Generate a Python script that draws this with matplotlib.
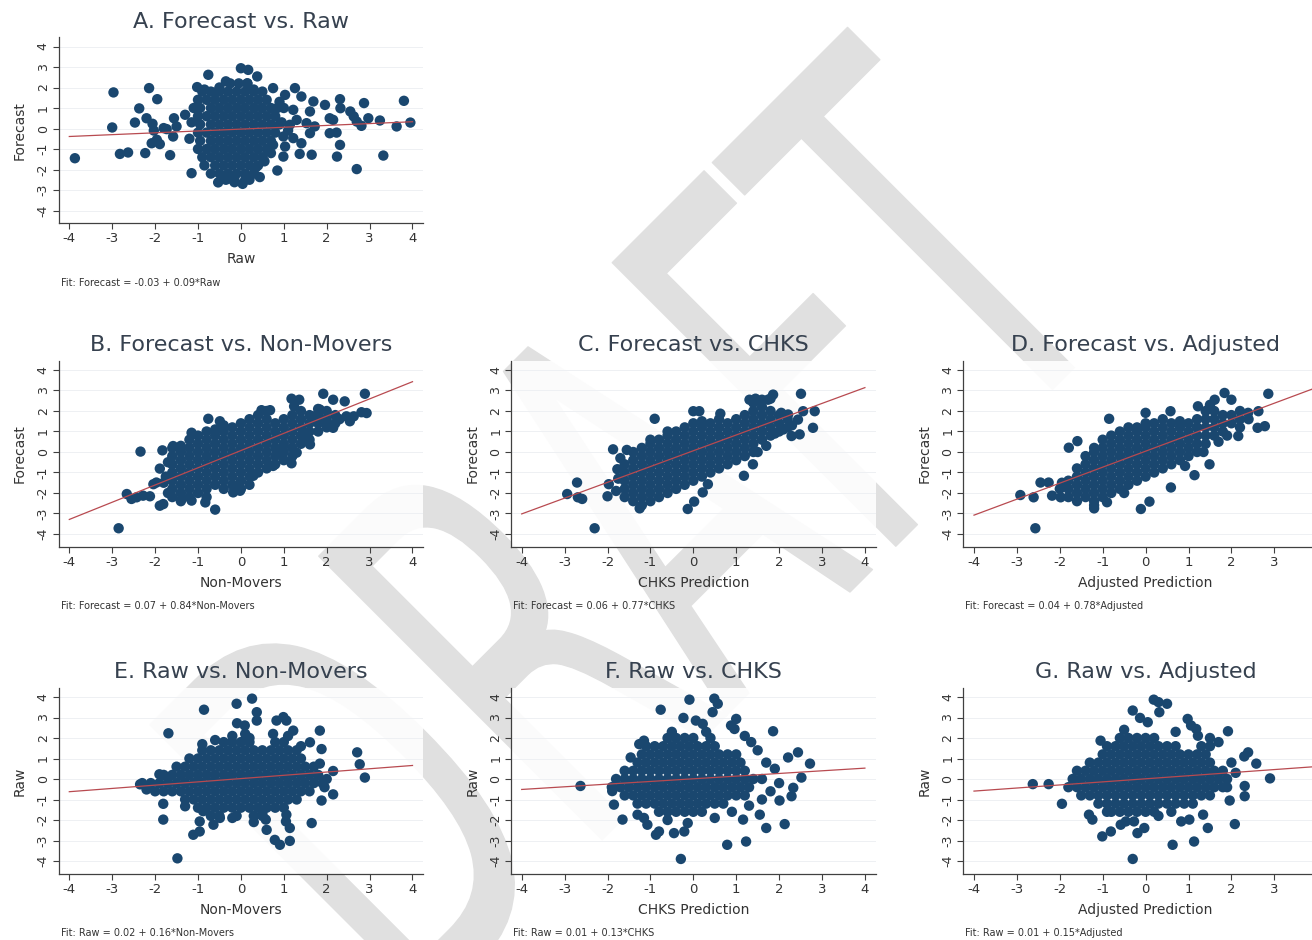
import numpy as np
import matplotlib
matplotlib.use("Agg")
import matplotlib.pyplot as plt
from matplotlib.textpath import TextPath
from matplotlib.patches import PathPatch
from matplotlib.font_manager import FontProperties
from matplotlib.transforms import Affine2D

plt.rcParams['font.family'] = 'DejaVu Sans'
plt.rcParams['axes.unicode_minus'] = False

W, H = 1312, 940

# ---------------- data ----------------
# dense cores: rows (y, [x...]) or columns (x, [y...]); extras: scattered (x, y)
a_core = [
    (2.2, [-0.25, -0.05, 0.15]),
    (1.8, [-0.9, -0.7, -0.5, -0.3, -0.1, 0.1, 0.3, 0.5]),
    (1.4, [-1.0, -0.8, -0.6, -0.4, -0.2, 0.0, 0.2, 0.4, 0.6]),
    (1.0, [-0.95, -0.7, -0.5, -0.3, -0.1, 0.1, 0.3, 0.5, 0.7, 0.85]),
    (0.6, [-1.0, -0.8, -0.6, -0.4, -0.2, 0.0, 0.2, 0.4, 0.6, 0.8]),
    (0.2, [-0.95, -0.7, -0.5, -0.3, -0.1, 0.1, 0.3, 0.5, 0.7, 0.9]),
    (-0.2, [-1.0, -0.8, -0.6, -0.4, -0.2, 0.0, 0.2, 0.4, 0.6, 0.8]),
    (-0.6, [-0.95, -0.7, -0.5, -0.3, -0.1, 0.1, 0.3, 0.5, 0.7]),
    (-1.0, [-1.0, -0.8, -0.6, -0.4, -0.2, 0.0, 0.2, 0.4, 0.6]),
    (-1.4, [-0.9, -0.7, -0.5, -0.3, -0.1, 0.1, 0.3, 0.5]),
    (-1.8, [-0.85, -0.6, -0.4, -0.2, 0.0, 0.2, 0.4]),
    (-2.2, [-0.7, -0.5, -0.3, -0.1, 0.1, 0.3]),
    (-2.5, [-0.35, -0.15, 0.1]),
]
a_extra = [(-3.87, -1.45), (-2.97, 1.76), (-3.0, 0.05), (-2.82, -1.24), (-2.63, -1.17),
           (-2.14, 1.97), (-1.95, 1.43), (-2.37, 0.98), (-2.47, 0.29), (-2.2, 0.5),
           (-2.06, 0.23), (-2.03, -0.1), (-2.23, -1.2), (-2.08, -0.72), (-1.96, -0.55),
           (-1.89, -0.76), (-1.65, -1.3), (-1.8, 0.02), (-1.73, -0.03), (-1.56, 0.5),
           (-1.5, 0.1), (-1.58, -0.39), (-1.3, 0.67), (-1.15, -2.18), (-1.02, 2.02),
           (-0.76, 2.62), (0.0, 2.94), (0.17, 2.86), (0.38, 2.54), (-0.53, -2.63),
           (0.04, -2.7), (0.44, -2.37), (0.85, -2.05), (0.75, 1.97), (1.03, 1.64),
           (1.26, 1.97), (1.41, 1.56), (1.22, 0.91), (1.61, 0.83), (1.69, 1.32),
           (1.96, 1.15), (2.07, 0.5), (2.15, 0.42), (2.31, 1.43), (2.32, 0.99),
           (2.55, 0.83), (2.63, 0.59), (2.7, 0.34), (2.87, 1.24), (2.97, 0.5),
           (3.24, 0.39), (3.8, 1.35), (3.95, 0.29), (3.63, 0.1), (3.32, -1.32),
           (2.7, -1.98), (2.24, -1.37), (2.31, -0.8), (2.23, -0.2), (2.07, -0.23),
           (2.81, 0.13), (1.65, -1.28), (1.37, -1.24), (1.41, -0.72), (1.22, -0.47),
           (0.99, -1.37), (1.03, -0.88), (0.99, -0.39), (0.75, -0.8), (1.61, -0.23),
           (1.72, 0.1), (1.53, 0.26), (1.14, 0.18), (1.3, 0.42), (0.9, 1.3), (1.0, 1.0),
           (0.95, 0.3), (1.1, -0.1), (-1.1, 1.0), (-1.15, 0.3), (-1.2, -0.5),
           (-0.3, -2.45), (0.2, -2.5), (-0.15, -2.62), (0.35, -1.9), (0.55, -1.6),
           (0.7, -1.2), (-0.5, 2.0), (-0.35, 2.3), (0.15, 2.2), (0.3, 1.9), (-0.6, 1.75),
           (-0.85, 1.9)]

b_core = [
    (-1.6, [-2.2, -1.8, -1.4, -1.0, -0.6, -0.2, 0.2]),
    (-1.4, [-2.4, -2.0, -1.6, -1.2, -0.8, -0.4, 0.0, 0.3]),
    (-1.2, [-2.2, -1.8, -1.4, -1.0, -0.6, -0.2, 0.2, 0.6]),
    (-1.0, [-2.0, -1.6, -1.2, -0.8, -0.4, 0.0, 0.4, 0.8]),
    (-0.8, [-2.2, -1.8, -1.4, -1.0, -0.6, -0.2, 0.2, 0.6, 1.0]),
    (-0.6, [-1.6, -1.2, -0.8, -0.4, 0.0, 0.4, 0.8, 1.1]),
    (-0.4, [-1.8, -1.4, -1.0, -0.6, -0.2, 0.2, 0.6, 1.0, 1.3]),
    (-0.2, [-1.6, -1.2, -0.8, -0.4, 0.0, 0.4, 0.8, 1.2]),
    (0.0, [-1.8, -1.4, -1.0, -0.6, -0.2, 0.2, 0.6, 1.0, 1.4]),
    (0.2, [-1.6, -1.2, -0.8, -0.4, 0.0, 0.4, 0.8, 1.2, 1.6]),
    (0.4, [-1.0, -0.6, -0.2, 0.2, 0.6, 1.0, 1.4, 1.8]),
    (0.6, [-0.8, -0.4, 0.0, 0.4, 0.8, 1.2, 1.6, 2.0]),
    (0.8, [-0.6, -0.2, 0.2, 0.6, 1.0, 1.4]),
    (1.0, [-0.4, 0.0, 0.4, 0.8, 1.2, 1.6]),
    (1.2, [-0.2, 0.2, 0.6, 1.0, 1.4, 1.8]),
    (1.4, [0.4, 0.8, 1.2, 1.6, 2.0]),
    (1.6, [0.6, 1.0, 1.4, 1.8]),
    (1.8, [1.0, 1.4, 1.8, 2.1]),
    (2.0, [1.2, 1.6, 2.0]),
    (2.2, [1.4, 1.8]),
]
b_extra = [(-2.85, -3.72), (-2.66, -2.05), (-2.55, -2.29), (-2.43, -2.21), (-2.28, -2.13),
           (-2.12, -2.16), (-2.34, 0.02), (-1.83, 0.08), (-1.89, -0.81), (-1.89, -2.62),
           (-1.81, -2.54), (-2.04, -1.57), (-1.97, -1.49), (-0.83, -2.46), (-0.6, -2.81),
           (-1.15, -2.37), (-1.38, -2.29), (-0.76, 1.62), (-1.15, 0.94), (-1.58, 0.29),
           (-0.49, 1.5), (0.48, 2.04), (0.68, 2.04), (1.18, 2.6), (1.36, 2.55), (1.24, 2.23),
           (1.92, 2.84), (2.15, 2.55), (2.42, 2.47), (2.89, 2.84), (2.93, 1.9), (2.81, 1.94),
           (2.63, 1.74), (2.54, 1.5), (2.46, 1.74), (2.15, 1.18), (1.92, 1.55), (1.68, 1.74),
           (1.84, 2.07), (1.61, 0.37), (1.3, -0.03), (1.18, -0.55), (0.91, -0.03),
           (0.99, 0.29), (-0.18, -1.97), (-0.09, -1.73), (-0.02, -1.89), (0.29, -1.16),
           (0.75, -0.68), (2.3, 1.6), (2.0, 1.3), (1.5, 0.6), (1.45, 1.0), (-1.8, -1.5),
           (-1.7, -2.0), (-1.75, -1.2), (-1.7, -0.5)]

c_core = [
    (-1.6, [-2.2, -1.8, -1.4, -1.0, -0.6]),
    (-1.4, [-2.4, -2.0, -1.6, -1.2, -0.8, -0.4, 0.0]),
    (-1.2, [-2.6, -2.2, -1.8, -1.4, -1.0, -0.6, -0.2, 0.2]),
    (-1.0, [-2.4, -2.0, -1.6, -1.2, -0.8, -0.4, 0.0, 0.4, 0.6]),
    (-0.8, [-2.2, -1.8, -1.4, -1.0, -0.6, -0.2, 0.2, 0.6]),
    (-0.6, [-2.0, -1.6, -1.2, -0.8, -0.4, 0.0, 0.4, 0.8, 1.0]),
    (-0.4, [-1.8, -1.4, -1.0, -0.6, -0.2, 0.2, 0.6, 1.0]),
    (-0.2, [-1.6, -1.2, -0.8, -0.4, 0.0, 0.4, 0.8, 1.2]),
    (0.0, [-1.4, -1.0, -0.6, -0.2, 0.2, 0.6, 1.0, 1.4]),
    (0.2, [-1.2, -0.8, -0.4, 0.0, 0.4, 0.8, 1.2, 1.5]),
    (0.4, [-1.0, -0.6, -0.2, 0.2, 0.6, 1.0, 1.4]),
    (0.6, [-0.8, -0.4, 0.0, 0.4, 0.8, 1.2, 1.6]),
    (0.8, [-0.6, -0.2, 0.2, 0.6, 1.0, 1.4]),
    (1.0, [-0.4, 0.0, 0.4, 0.8, 1.2, 1.6]),
    (1.2, [-0.2, 0.2, 0.6, 1.0, 1.4, 1.8]),
    (1.4, [0.0, 0.4, 0.8, 1.2, 1.6, 2.0, 2.4]),
    (1.6, [0.6, 1.0, 1.4, 1.8, 2.2, 2.5]),
    (1.8, [0.8, 1.2, 1.6, 2.0, 2.6]),
    (2.0, [1.0, 1.4, 1.8]),
    (2.2, [1.2, 1.6]),
]
c_extra = [(-2.3, -3.72), (-2.94, -2.05), (-2.71, -1.49), (-2.69, -2.21), (-2.59, -2.29),
           (-2.0, -2.16), (-1.97, -1.57), (-1.87, 0.13), (-1.77, -0.84), (-0.9, 1.62),
           (-0.13, -2.78), (0.02, -2.42), (0.22, -1.97), (0.34, -1.57), (0.0, 1.99),
           (0.14, 1.99), (0.63, 1.87), (1.18, -1.16), (1.39, -0.6), (2.51, 2.84),
           (1.86, 2.8), (1.31, 2.55), (1.45, 2.6), (1.6, 2.55), (1.74, 2.55), (2.79, 1.18),
           (2.83, 1.99), (2.29, 0.78), (2.48, 0.86), (2.56, 1.99), (2.44, 1.58),
           (2.05, 1.91), (2.21, 1.83), (2.3, 1.3), (2.1, 1.1), (1.9, 0.9), (1.7, 0.3),
           (1.5, 0.0), (-1.8, -1.9), (-1.75, -1.3), (-1.7, -0.3), (-1.55, 0.1),
           (-1.25, -2.75)]

d_core = [
    (-1.8, [-2.2, -1.8, -1.4]),
    (-1.6, [-2.4, -2.0, -1.6, -1.2, -0.8]),
    (-1.4, [-2.2, -1.8, -1.4, -1.0, -0.6, -0.2]),
    (-1.2, [-2.6, -2.4, -2.0, -1.6, -1.2, -0.8, -0.4, 0.0, 0.2]),
    (-1.0, [-2.2, -1.8, -1.4, -1.0, -0.6, -0.2, 0.2, 0.6]),
    (-0.8, [-2.0, -1.6, -1.2, -0.8, -0.4, 0.0, 0.4, 0.8]),
    (-0.6, [-1.8, -1.4, -1.0, -0.6, -0.2, 0.2, 0.6, 1.0]),
    (-0.4, [-1.6, -1.2, -0.8, -0.4, 0.0, 0.4, 0.8, 1.2]),
    (-0.2, [-1.4, -1.0, -0.6, -0.2, 0.2, 0.6, 1.0, 1.2]),
    (0.0, [-1.2, -0.8, -0.4, 0.0, 0.4, 0.8, 1.2, 1.4]),
    (0.2, [-1.0, -0.6, -0.2, 0.2, 0.6, 1.0, 1.4]),
    (0.4, [-0.8, -0.4, 0.0, 0.4, 0.8, 1.2, 1.6]),
    (0.6, [-0.6, -0.2, 0.2, 0.6, 1.0, 1.4]),
    (0.8, [-0.4, 0.0, 0.4, 0.8, 1.2, 1.5]),
    (1.0, [-0.2, 0.2, 0.6, 1.0, 1.4]),
    (1.2, [0.0, 0.4, 0.8, 1.2, 1.6]),
    (1.4, [0.4, 0.8, 1.2, 1.6, 2.0]),
    (1.6, [0.8, 1.2, 1.6, 2.0]),
    (1.8, [1.0, 1.4, 1.8]),
    (2.0, [1.4, 1.8]),
    (2.2, [1.6, 2.0]),
]
d_extra = [(-2.57, -3.72), (-2.92, -2.1), (-2.61, -2.21), (-2.45, -1.49), (-2.26, -1.49),
           (-2.18, -2.13), (-1.98, -2.21), (-1.79, 0.21), (-1.59, 0.53), (-0.85, 1.62),
           (0.0, 1.91), (0.58, 1.99), (-0.11, -2.78), (0.09, -2.42), (0.59, -1.73),
           (0.92, -0.68), (1.14, -1.13), (1.49, -0.6), (1.61, 2.55), (1.84, 2.88),
           (2.0, 2.55), (1.22, 2.23), (2.86, 2.84), (2.61, 1.18), (2.78, 1.26),
           (2.39, 1.91), (2.63, 1.99), (2.16, 0.78), (2.4, 1.6), (2.2, 1.2), (1.9, 0.8),
           (1.7, 0.5), (1.35, 0.0), (-2.0, -1.8), (-1.95, -1.5), (-1.2, -2.75),
           (-0.9, -2.45), (-0.5, -2.0), (1.5, 2.3)]

e_core = [
    (1.8, [-0.4, -0.2, 0.0, 0.2, 0.8, 1.0]),
    (1.4, [-0.9, -0.7, -0.5, -0.3, -0.1, 0.1, 0.3, 0.5, 0.7, 0.9, 1.1, 1.3]),
    (1.0, [-1.2, -1.0, -0.8, -0.6, -0.4, -0.2, 0.0, 0.2, 0.4, 0.6, 0.8, 1.0, 1.2, 1.4]),
    (0.6, [-1.5, -1.3, -1.1, -0.9, -0.7, -0.5, -0.3, -0.1, 0.1, 0.3, 0.5, 0.7, 0.9,
           1.1, 1.3, 1.5, 1.7]),
    (0.2, [-1.8, -1.6, -1.4, -1.2, -1.0, -0.8, -0.6, -0.4, -0.2, 0.0, 0.2, 0.4, 0.6,
           0.8, 1.0, 1.2, 1.4, 1.6, 1.8]),
    (-0.2, [-2.3, -2.1, -1.9, -1.7, -1.5, -1.3, -1.1, -0.9, -0.7, -0.5, -0.3, -0.1,
            0.1, 0.3, 0.5, 0.7, 0.9, 1.1, 1.3, 1.5, 1.7, 1.9]),
    (-0.6, [-2.0, -1.8, -1.6, -1.4, -1.2, -1.0, -0.8, -0.6, -0.4, -0.2, 0.0, 0.2, 0.4,
            0.6, 0.8, 1.0, 1.2, 1.4, 1.6]),
    (-1.0, [-1.3, -1.1, -0.9, -0.7, -0.5, -0.3, -0.1, 0.1, 0.3, 0.5, 0.7, 0.9, 1.1, 1.3]),
    (-1.4, [-1.0, -0.8, -0.6, -0.4, -0.2, 0.0, 0.2, 0.4, 0.6, 0.8, 1.0]),
    (-1.8, [-0.7, -0.5, -0.1, 0.3, 0.5]),
]
e_extra = [(-1.48, -3.87), (-1.69, 2.23), (-0.86, 3.38), (-0.1, 3.67), (0.26, 3.92),
           (0.37, 3.26), (0.37, 2.85), (-0.09, 2.72), (0.09, 2.61), (0.83, 2.85),
           (0.99, 3.02), (1.06, 2.85), (1.22, 2.36), (1.84, 2.36), (1.61, 1.79),
           (1.88, 1.46), (1.84, 0.75), (2.15, 0.39), (2.15, -0.75), (1.88, -1.05),
           (2.71, 1.3), (2.77, 0.72), (2.89, 0.07), (1.65, -2.15), (1.14, -3.02),
           (0.79, -2.97), (0.91, -3.21), (1.14, -2.39), (1.05, -2.07), (1.06, -1.74),
           (0.6, -2.48), (0.58, -1.98), (-1.11, -2.72), (-0.96, -2.56), (-0.96, -2.07),
           (-0.88, -1.57), (-0.64, -2.23), (-0.49, -1.9), (-1.81, -1.98), (-1.81, -1.21),
           (-1.9, 0.23), (-1.3, -1.33), (-2.35, -0.26), (-2.2, -0.51), (0.1, 2.2),
           (0.2, 2.0), (-0.2, 2.1), (0.75, 2.2), (1.1, 2.1), (1.4, 1.6), (-0.9, 1.7),
           (-0.6, 1.9), (0.5, -1.7), (0.3, -2.1), (-0.2, -1.9), (2.0, 0.0), (1.95, -0.4)]

f_core = [
    (2.0, [-0.6, -0.4, -0.2, 0.0, 0.4]),
    (1.6, [-1.1, -0.9, -0.7, -0.5, -0.3, -0.1, 0.1, 0.3, 0.5]),
    (1.2, [-1.2, -1.0, -0.8, -0.6, -0.4, -0.2, 0.0, 0.2, 0.4, 0.6, 0.8, 1.0]),
    (0.8, [-1.3, -1.1, -0.9, -0.7, -0.5, -0.3, -0.1, 0.1, 0.3, 0.5, 0.7, 0.9, 1.1]),
    (0.4, [-1.6, -1.4, -1.2, -1.0, -0.8, -0.6, -0.4, -0.2, 0.0, 0.2, 0.4, 0.6, 0.8,
           1.0, 1.2]),
    (0.0, [-1.8, -1.6, -1.4, -1.2, -1.0, -0.8, -0.6, -0.4, -0.2, 0.0, 0.2, 0.4, 0.6,
           0.8, 1.0, 1.2, 1.4, 1.6]),
    (-0.4, [-1.9, -1.7, -1.5, -1.3, -1.1, -0.9, -0.7, -0.5, -0.3, -0.1, 0.1, 0.3, 0.5,
            0.7, 0.9, 1.1, 1.3]),
    (-0.8, [-1.6, -1.4, -1.2, -1.0, -0.8, -0.6, -0.4, -0.2, 0.0, 0.2, 0.4, 0.6, 0.8,
            1.0, 1.2]),
    (-1.2, [-1.3, -1.1, -0.9, -0.7, -0.5, -0.3, -0.1, 0.1, 0.3, 0.5, 0.7]),
    (-1.6, [-0.8, -0.6, -0.4, -0.2, 0.0, 0.2]),
]
f_extra = [(-2.63, -0.34), (-0.29, -3.9), (-0.09, 3.87), (0.49, 3.92), (0.57, 3.67),
           (0.45, 3.26), (-0.76, 3.38), (-0.23, 2.98), (0.06, 2.85), (0.22, 2.69),
           (1.0, 2.93), (0.88, 2.61), (0.96, 2.44), (1.86, 2.33), (2.72, 0.75),
           (2.44, 1.3), (2.21, 1.05), (2.52, 0.07), (2.33, -0.43), (2.29, -0.84),
           (2.01, -1.05), (2.13, -2.2), (1.7, -2.39), (1.55, -1.74), (1.16, -1.98),
           (1.23, -3.05), (0.79, -3.21), (-0.13, -2.15), (-0.21, -2.56), (-0.45, -2.64),
           (-0.87, -2.72), (-0.8, -2.56), (-1.15, -1.9), (-1.07, -2.23), (-1.3, -1.74),
           (-1.65, -1.98), (-1.89, -0.59), (-1.85, -1.25), (-1.46, 1.05), (-1.26, 1.7),
           (-1.15, 1.87), (1.2, 2.1), (1.35, 1.8), (1.5, 1.4), (1.7, 0.8), (1.9, 0.5),
           (2.0, -0.2), (1.8, -0.6), (1.6, -1.0), (1.3, -1.3), (0.9, -1.6), (0.5, -1.9),
           (-0.6, -2.0), (-0.5, 2.3), (0.3, 2.3)]

g_core = [
    (2.0, [-0.6, -0.4, -0.2, 0.0, 0.2]),
    (1.6, [-0.9, -0.7, -0.5, -0.3, -0.1, 0.1, 0.3, 0.5, 0.7, 1.3, 1.5]),
    (1.2, [-1.0, -0.8, -0.6, -0.4, -0.2, 0.0, 0.2, 0.4, 0.6, 0.8, 1.0, 1.2, 1.4]),
    (0.8, [-1.3, -1.1, -0.9, -0.7, -0.5, -0.3, -0.1, 0.1, 0.3, 0.5, 0.7, 0.9, 1.1,
           1.3, 1.5]),
    (0.4, [-1.6, -1.4, -1.2, -1.0, -0.8, -0.6, -0.4, -0.2, 0.0, 0.2, 0.4, 0.6, 0.8,
           1.0, 1.2, 1.4, 1.6, 1.8]),
    (0.0, [-1.7, -1.5, -1.3, -1.1, -0.9, -0.7, -0.5, -0.3, -0.1, 0.1, 0.3, 0.5, 0.7,
           0.9, 1.1, 1.3, 1.5, 1.7, 1.9]),
    (-0.4, [-1.8, -1.6, -1.4, -1.2, -1.0, -0.8, -0.6, -0.4, -0.2, 0.0, 0.2, 0.4, 0.6,
            0.8, 1.0, 1.2, 1.4, 1.6, 1.8]),
    (-0.8, [-1.5, -1.3, -1.1, -0.9, -0.7, -0.5, -0.3, -0.1, 0.1, 0.3, 0.5, 0.7, 0.9,
            1.1, 1.3, 1.5]),
    (-1.2, [-1.1, -0.9, -0.7, -0.5, -0.3, -0.1, 0.1, 0.3, 0.5, 0.7, 0.9, 1.1]),
    (-1.6, [-0.8, -0.6, -0.4, -0.2, 0.0, 0.2]),
]
g_extra = [(-2.63, -0.25), (-2.26, -0.25), (-1.95, -1.21), (-0.3, -3.9), (-0.3, 3.34),
           (0.19, 3.87), (0.3, 3.75), (0.5, 3.67), (0.32, 3.26), (-0.13, 2.98),
           (0.05, 2.77), (-1.05, 1.87), (0.98, 2.93), (1.06, 2.61), (1.18, 2.44),
           (1.22, 2.11), (1.92, 2.33), (2.39, 1.3), (2.58, 0.75), (2.9, 0.03),
           (2.31, -0.34), (2.31, -0.84), (1.96, -1.05), (2.08, -2.2), (1.45, -2.39),
           (1.34, -1.74), (1.02, -1.98), (0.83, -2.07), (1.13, -3.05), (0.63, -3.21),
           (-0.19, -2.64), (-0.03, -2.39), (-0.27, -2.07), (-0.81, -2.56), (-1.01, -2.8),
           (-0.58, -2.23), (-0.46, -2.07), (-1.24, -1.98), (-1.32, -1.74), (2.0, 0.8),
           (2.1, 0.3), (2.3, 1.1), (1.9, -0.4), (1.7, 1.8), (1.5, 2.0), (0.7, 2.3),
           (-0.5, 2.4), (0.3, -1.8), (0.6, -1.6), (-0.9, -1.6)]

titles = ["A. Forecast vs. Raw", "B. Forecast vs. Non-Movers", "C. Forecast vs. CHKS",
          "D. Forecast vs. Adjusted", "E. Raw vs. Non-Movers", "F. Raw vs. CHKS",
          "G. Raw vs. Adjusted"]
xlabels = ["Raw", "Non-Movers", "CHKS Prediction", "Adjusted Prediction",
           "Non-Movers", "CHKS Prediction", "Adjusted Prediction"]
ylabels = ["Forecast", "Forecast", "Forecast", "Forecast", "Raw", "Raw", "Raw"]
intercepts = [-0.03, 0.07, 0.06, 0.04, 0.02, 0.01, 0.01]
slopes = [0.09, 0.84, 0.77, 0.78, 0.16, 0.13, 0.15]
notes = ["Fit: Forecast = -0.03 + 0.09*Raw", "Fit: Forecast = 0.07 + 0.84*Non-Movers",
         "Fit: Forecast = 0.06 + 0.77*CHKS", "Fit: Forecast = 0.04 + 0.78*Adjusted",
         "Fit: Raw = 0.02 + 0.16*Non-Movers", "Fit: Raw = 0.01 + 0.13*CHKS",
         "Fit: Raw = 0.01 + 0.15*Adjusted"]
cells = [(0, 0), (1, 0), (1, 1), (1, 2), (2, 0), (2, 1), (2, 2)]


def from_rows(core, extra):
    xs = [x for y, row in core for x in row] + [p[0] for p in extra]
    ys = [y for y, row in core for x in row] + [p[1] for p in extra]
    return np.array(xs), np.array(ys)


def from_cols(core, extra):
    xs = [x for x, col in core for y in col] + [p[0] for p in extra]
    ys = [y for x, col in core for y in col] + [p[1] for p in extra]
    return np.array(xs), np.array(ys)


panels = [from_rows(a_core, a_extra), from_cols(b_core, b_extra),
          from_cols(c_core, c_extra), from_cols(d_core, d_extra),
          from_rows(e_core, e_extra), from_rows(f_core, f_extra),
          from_rows(g_core, g_extra)]

# ---------------- layout (pixels) ----------------
col_x4 = [69.3, 521.7, 974.0]      # pixel of x = -4
row_y4 = [46.5, 370.0, 697.0]      # pixel of y = 4
pxx, pxy = 42.9, 20.5
xlim = (-4.25, 4.25)
ylim = (-4.63, 4.45)

navy = '#1a476f'
fitc = '#b84a50'
txt = '#333333'
titlec = '#36414f'

fig = plt.figure(figsize=(W / 100, H / 100), dpi=100)
fig.patch.set_facecolor('white')

# DRAFT watermark, tall letters on a 45 degree baseline (pixel coordinates)
wm = TextPath((0, 0), 'DRAFT', size=1, prop=FontProperties(family='DejaVu Sans'))
wm_tr = Affine2D().scale(310, 550).rotate_deg(45).translate(412, -90)
fig.add_artist(PathPatch(wm, transform=wm_tr, facecolor='#e0e0e0',
                         edgecolor='#e0e0e0', lw=1, joinstyle='round', zorder=-5))

for i, (r, c) in enumerate(cells):
    left = col_x4[c] + (xlim[0] + 4) * pxx
    top = row_y4[r] - (ylim[1] - 4) * pxy
    w = (xlim[1] - xlim[0]) * pxx
    h = (ylim[1] - ylim[0]) * pxy
    ax = fig.add_axes([left / W, 1 - (top + h) / H, w / W, h / H])
    ax.set_facecolor((1, 1, 1, 0.88))
    ax.set_xlim(*xlim)
    ax.set_ylim(*ylim)
    xs, ys = panels[i]
    ax.scatter(xs, ys, s=56, color=navy, edgecolors='none', zorder=3)
    lx = np.array([-4, 4])
    ax.plot(lx, intercepts[i] + slopes[i] * lx, color=fitc, lw=0.9, zorder=4)
    ax.set_xticks(range(-4, 5))
    ax.set_yticks(range(-4, 5))
    ax.grid(axis='y', color='#eef0f3', lw=0.7)
    ax.set_axisbelow(True)
    for s in ['top', 'right']:
        ax.spines[s].set_visible(False)
    for s in ['left', 'bottom']:
        ax.spines[s].set_color('#404040')
        ax.spines[s].set_linewidth(0.9)
    ax.tick_params(direction='out', length=4.3, width=0.8, color='#404040',
                   labelcolor=txt, pad=2)
    ax.tick_params(axis='x', labelsize=9.5)
    ax.tick_params(axis='y', labelsize=9, labelrotation=90)
    for lab in ax.get_yticklabels():
        lab.set_va('center')
    ax.set_title(titles[i], fontsize=16, color=titlec, pad=7)
    ax.set_xlabel(xlabels[i], fontsize=10, color=txt, labelpad=5)
    ax.set_ylabel(ylabels[i], fontsize=10, color=txt, labelpad=7)
    fig.text((left + 2) / W, 1 - (row_y4[r] + 236) / H, notes[i], fontsize=7,
             color=txt, ha='left', va='center')

fig.savefig('out.png', dpi=100, facecolor='white')
